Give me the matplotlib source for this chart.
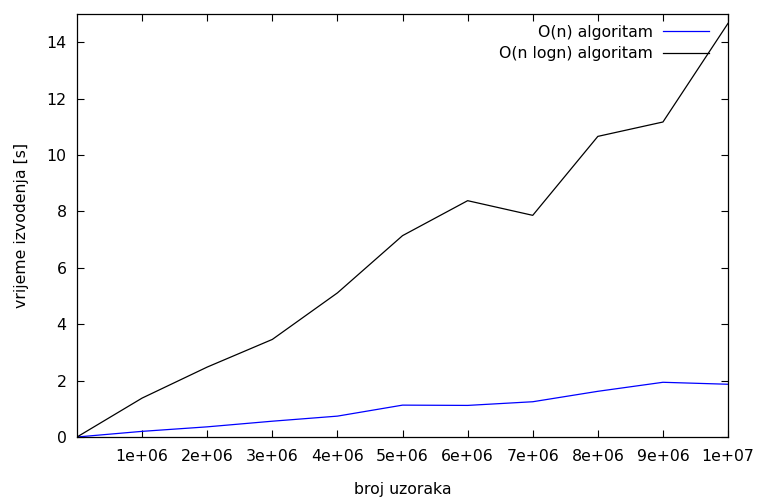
import matplotlib
matplotlib.use("Agg")
from matplotlib import pyplot as plt

# sample counts and measured run times (seconds)
n_samples = [0, 1e6, 2e6, 3e6, 4e6, 5e6, 6e6, 7e6, 8e6, 9e6, 1e7]
time_linear = [0.0, 0.20, 0.36, 0.56, 0.74, 1.13, 1.12, 1.25, 1.62, 1.94, 1.87]
time_nlogn = [0.0, 1.38, 2.48, 3.46, 5.11, 7.14, 8.38, 7.86, 10.66, 11.17, 14.67]

x_ticks = [1e6, 2e6, 3e6, 4e6, 5e6, 6e6, 7e6, 8e6, 9e6, 1e7]
x_tick_labels = ["1e+06", "2e+06", "3e+06", "4e+06", "5e+06",
                 "6e+06", "7e+06", "8e+06", "9e+06", "1e+07"]
y_ticks = [0, 2, 4, 6, 8, 10, 12, 14]

fs = 11.3

fig = plt.figure(figsize=(7.61, 4.98), dpi=100)
ax = fig.add_axes([0.1012, 0.1225, 0.8555, 0.8494])

ax.plot(n_samples, time_linear, color="#0000ff", lw=0.9, label="O(n) algoritam")
ax.plot(n_samples, time_nlogn, color="black", lw=0.9, label="O(n logn) algoritam")

ax.set_xlim(0, 1e7)
ax.set_ylim(0, 15)
ax.set_xticks(x_ticks)
ax.set_xticklabels(x_tick_labels)
ax.set_yticks(y_ticks)
ax.tick_params(direction="in", length=5, width=0.8, top=True, right=True,
               labelsize=fs, colors="black")
ax.tick_params(axis="x", pad=9)
ax.tick_params(axis="y", pad=7.5)
for sp in ax.spines.values():
    sp.set_linewidth(0.9)

ax.set_xlabel("broj uzoraka", fontsize=fs, labelpad=12.5)
ax.set_ylabel("vrijeme izvodenja [s]", fontsize=fs, labelpad=12.5)

ax.legend(loc="upper right", frameon=False, markerfirst=False, fontsize=fs,
          handlelength=2.93, handletextpad=0.64, labelspacing=0.39,
          borderpad=0, borderaxespad=0, bbox_to_anchor=(0.971, 0.974))

fig.savefig("out.png", dpi=100, facecolor="w")
